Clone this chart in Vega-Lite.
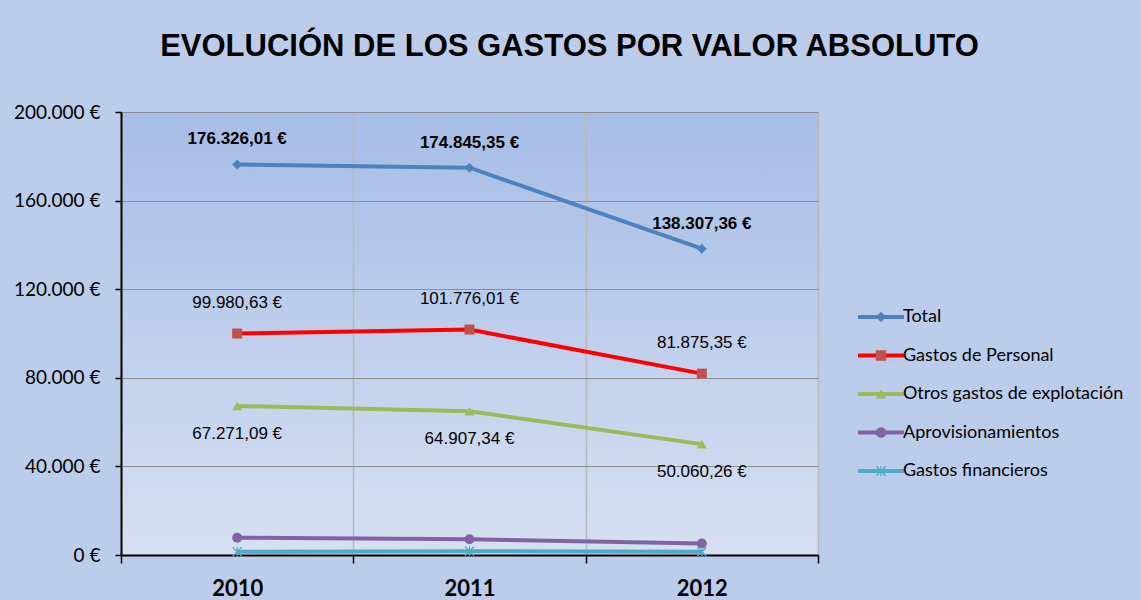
{
  "$schema": "https://vega.github.io/schema/vega-lite/v6.json",
  "width": 697,
  "height": 443,
  "autosize": {"type": "none"},
  "padding": {"left": 121, "top": 112, "right": 323, "bottom": 45},
  "background": "#bccdeb",
  "title": {
    "text": "EVOLUCIÓN DE LOS GASTOS POR VALOR ABSOLUTO",
    "font": "Liberation Sans",
    "fontSize": 31,
    "fontWeight": "bold",
    "color": "#000000",
    "anchor": "middle",
    "frame": "group",
    "dx": 100,
    "offset": 16,
    "baseline": "alphabetic"
  },
  "config": {
    "locale": {"number": {"decimal": ",", "thousands": ".", "grouping": [3], "currency": ["", " €"]}},
    "view": {
      "stroke": null,
      "fill": {"gradient": "linear", "x1": 0, "y1": 0, "x2": 0, "y2": 1,
        "stops": [{"offset": 0, "color": "#a6bde6"}, {"offset": 1, "color": "#d7e0f2"}]}
    }
  },
  "data": {
    "values": [
      {"year": "2010", "serie": "Total", "value": 176326.01},
      {"year": "2011", "serie": "Total", "value": 174845.35},
      {"year": "2012", "serie": "Total", "value": 138307.36},
      {"year": "2010", "serie": "Gastos de Personal", "value": 99980.63},
      {"year": "2011", "serie": "Gastos de Personal", "value": 101776.01},
      {"year": "2012", "serie": "Gastos de Personal", "value": 81875.35},
      {"year": "2010", "serie": "Otros gastos de explotación", "value": 67271.09},
      {"year": "2011", "serie": "Otros gastos de explotación", "value": 64907.34},
      {"year": "2012", "serie": "Otros gastos de explotación", "value": 50060.26},
      {"year": "2010", "serie": "Aprovisionamientos", "value": 7800},
      {"year": "2011", "serie": "Aprovisionamientos", "value": 7100},
      {"year": "2012", "serie": "Aprovisionamientos", "value": 5200},
      {"year": "2010", "serie": "Gastos financieros", "value": 1500},
      {"year": "2011", "serie": "Gastos financieros", "value": 1700},
      {"year": "2012", "serie": "Gastos financieros", "value": 1450}
    ]
  },
  "encoding": {
    "x": {
      "field": "year", "type": "ordinal", "bandPosition": 0.5,
      "scale": {"type": "band", "paddingInner": 0, "paddingOuter": 0},
      "axis": {
        "title": null, "labelAngle": 0, "labelFont": "Lato", "labelFontSize": 22, "labelFontWeight": "bold",
        "labelColor": "#000000", "labelPadding": 15, "tickBand": "extent", "ticks": true, "tickSize": 8,
        "tickColor": "#000000", "tickWidth": 1.5, "domainColor": "#000000", "domainWidth": 2,
        "grid": true, "gridColor": "#b9b9b9", "gridWidth": 1.5
      }
    },
    "y": {
      "field": "value", "type": "quantitative",
      "scale": {"domain": [0, 200000], "nice": false},
      "axis": {
        "title": null, "values": [0, 40000, 80000, 120000, 160000, 200000], "format": "$,.0f",
        "labelFont": "Lato", "labelFontSize": 19, "labelColor": "#000000", "labelPadding": 15,
        "tickSize": 6, "tickColor": "#000000", "tickWidth": 1.5, "domainColor": "#000000", "domainWidth": 2,
        "grid": true, "gridColor": "#8f8f8f", "gridWidth": 1.2
      }
    }
  },
  "layer": [
    {
      "mark": {"type": "line", "strokeWidth": 4},
      "encoding": {
        "stroke": {
          "field": "serie", "type": "nominal",
          "sort": ["Total", "Gastos de Personal", "Otros gastos de explotación", "Aprovisionamientos", "Gastos financieros"],
          "scale": {
            "range": ["#4f81bd", "#ff0000", "#9bbb59", "#8064a2", "#4bacc6"]
          },
          "legend": {
            "title": null, "orient": "none", "legendX": 751, "legendY": 196, "padding": 0,
            "symbolType": "M-4.6,0L4.6,0", "symbolSize": 100, "symbolStrokeWidth": 4,
            "labelFont": "Lato", "labelFontSize": 18, "labelColor": "#000000", "labelOffset": 13,
            "rowPadding": 20.5, "labelLimit": 400, "zindex": 0
          }
        }
      }
    },
    {
      "mark": {"type": "point", "filled": true, "opacity": 1, "size": 100},
      "encoding": {
        "color": {
          "field": "serie", "type": "nominal",
          "scale": {
            "domain": ["Total", "Gastos de Personal", "Otros gastos de explotación", "Aprovisionamientos", "Gastos financieros"],
            "range": ["#4f81bd", "#c0504d", "#9bbb59", "#8064a2", "#4bacc6"]
          },
          "legend": {
            "title": null, "orient": "none", "legendX": 751, "legendY": 196, "padding": 0,
            "symbolSize": 110, "symbolStrokeWidth": 0, "symbolOpacity": 1,
            "labelFont": "Lato", "labelFontSize": 18, "labelExpr": "''", "rowPadding": 20.5, "zindex": 2
          }
        },
        "shape": {
          "field": "serie", "type": "nominal",
          "scale": {
            "domain": ["Total", "Gastos de Personal", "Otros gastos de explotación", "Aprovisionamientos", "Gastos financieros"],
            "range": ["diamond", "square", "triangle-up", "circle", "M-1,-0.8L-0.8,-1L0,-0.2L0.8,-1L1,-0.8L0.2,0L1,0.8L0.8,1L0,0.2L-0.8,1L-1,0.8L-0.2,0ZM-0.12,-1L0.12,-1L0.12,1L-0.12,1Z"]
          },
          "legend": {
            "title": null, "orient": "none", "legendX": 751, "legendY": 196, "padding": 0,
            "symbolSize": 110, "symbolStrokeWidth": 0, "symbolOpacity": 1,
            "labelFont": "Lato", "labelFontSize": 18, "labelExpr": "''", "rowPadding": 20.5, "zindex": 2
          }
        }
      }
    },
    {
      "transform": [{"filter": "datum.serie == 'Total'"}],
      "mark": {"type": "text", "font": "Liberation Sans", "fontSize": 17, "fontWeight": "bold", "color": "#000000", "dy": -25, "baseline": "middle"},
      "encoding": {"text": {"field": "value", "type": "quantitative", "format": "$,.2f"}}
    },
    {
      "transform": [{"filter": "datum.serie == 'Gastos de Personal'"}],
      "mark": {"type": "text", "font": "Liberation Sans", "fontSize": 17, "color": "#000000", "dy": -31, "baseline": "middle"},
      "encoding": {"text": {"field": "value", "type": "quantitative", "format": "$,.2f"}}
    },
    {
      "transform": [{"filter": "datum.serie == 'Otros gastos de explotación'"}],
      "mark": {"type": "text", "font": "Liberation Sans", "fontSize": 17, "color": "#000000", "dy": 28, "baseline": "middle"},
      "encoding": {"text": {"field": "value", "type": "quantitative", "format": "$,.2f"}}
    }
  ]
}
